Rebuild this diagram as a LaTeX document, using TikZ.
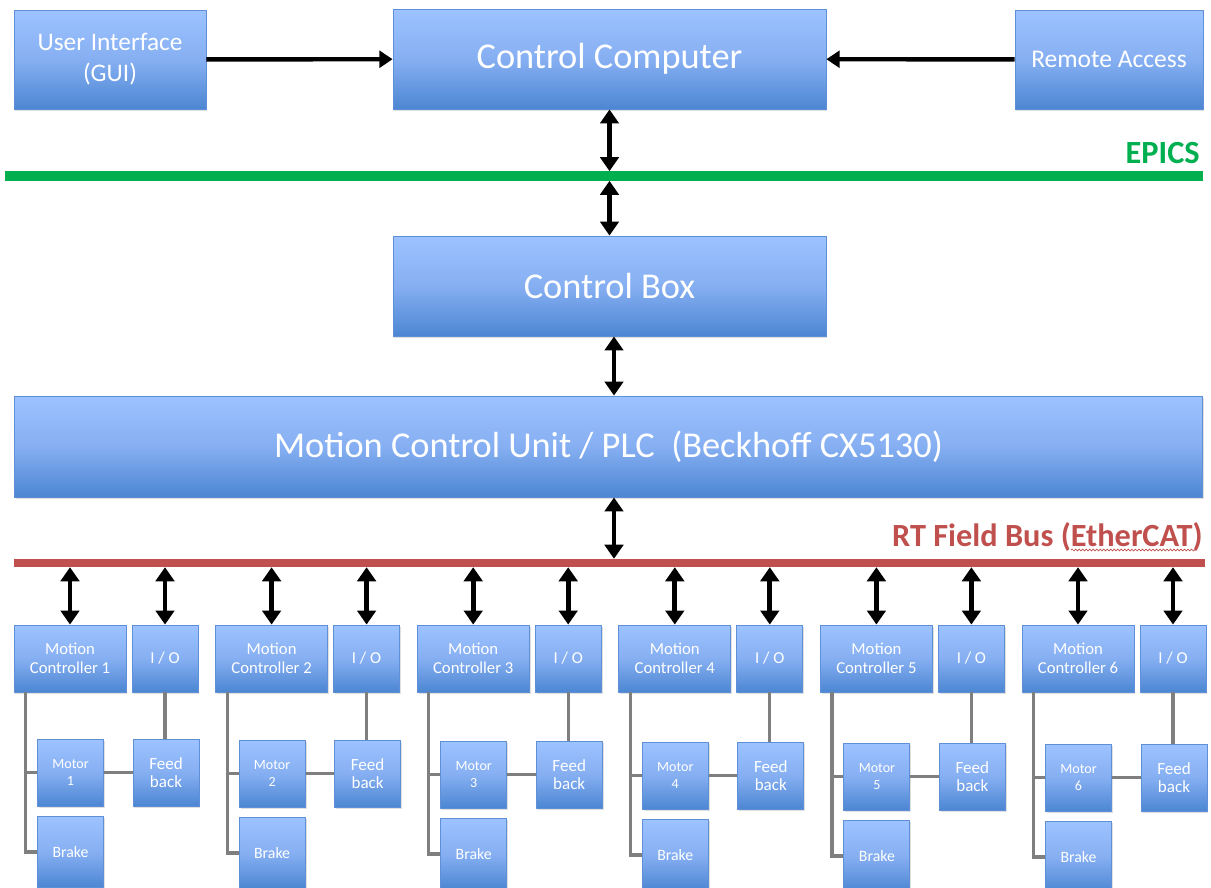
\documentclass[tikz,border=0pt]{standalone}
\usepackage{fontspec}
\setmainfont{Carlito}
\usetikzlibrary{arrows.meta,shadows,decorations.pathmorphing}

\definecolor{boxtop}{HTML}{9DC3FF}
\definecolor{boxmid}{HTML}{86AFF2}
\definecolor{boxbot}{HTML}{4C86D2}
\definecolor{boxline}{HTML}{5F8FD6}
\definecolor{epicsgreen}{HTML}{00B050}
\definecolor{busred}{HTML}{C0504D}
\definecolor{wiregray}{HTML}{7F7F7F}

\tikzset{
  blk/.style={draw=boxline, line width=0.5pt, top color=boxtop, bottom color=boxbot,
    middle color=boxmid, text=white, align=center, inner sep=0pt,
    drop shadow={opacity=0.25, shadow xshift=0.8pt, shadow yshift=-1pt}},
  mcbox/.style={blk, minimum width=2.24cm, minimum height=1.34cm,
    font=\fontsize{9.5}{10.5}\selectfont},
  smallbox/.style={blk, minimum width=1.32cm, minimum height=1.34cm,
    font=\fontsize{9.5}{10.5}\selectfont},
  buslabel/.style={anchor=base east, inner sep=0pt, font=\fontsize{18.4}{20}\selectfont\bfseries},
  dbl/.style={line width=2.8pt,
    {Triangle[width=10.5pt,length=8pt]}-{Triangle[width=10.5pt,length=8pt]}},
  one/.style={line width=2.5pt, -{Triangle[width=9.5pt,length=7.5pt]}},
  wire/.style={draw=wiregray, line width=1.8pt},
}

\begin{document}
\begin{tikzpicture}[x=0.02cm, y=-0.02cm]
  \useasboundingbox[fill=white] (0,0) rectangle (1211,887);

  % top row
  \node[blk, minimum width=3.84cm, minimum height=1.98cm,
    font=\fontsize{14.4}{17.6}\selectfont] (gui) at (110,59.5) {User Interface\\(GUI)};
  \node[blk, minimum width=8.66cm, minimum height=2cm,
    font=\fontsize{20.7}{24}\selectfont] (cc) at (609.5,59) {Control Computer};
  \node[blk, minimum width=3.76cm, minimum height=1.98cm,
    font=\fontsize{14.5}{17}\selectfont] (remote) at (1109,59.5) {Remote Access};
  \draw[one] (gui) -- (cc);
  \draw[one] (remote) -- (cc);

  % EPICS line
  \coordinate (epicsW) at (5,176);
  \coordinate (epicsE) at (1203,176);
  \draw[epicsgreen, line width=5.5pt] (epicsW) -- (epicsE);
  \node[buslabel, text=epicsgreen] (epics) at (1200,163) {EPICS};

  \node[blk, minimum width=8.66cm, minimum height=2cm,
    font=\fontsize{20.7}{24}\selectfont] (cbox) at (609.5,286) {Control Box};
  \draw[dbl, shorten >=2.75pt] (cc.south) -- (cc.south |- epicsW);
  \draw[dbl, shorten <=2.75pt] (cc.south |- epicsW) -- (cbox.north);

  \node[blk, minimum width=23.78cm, minimum height=2.02cm,
    font=\fontsize{20.7}{24}\selectfont] (mcu) at (608.5,446.5)
    {Motion Control Unit / PLC~~(Beckhoff CX5130)};
  \coordinate (mid) at ([xshift=0.09cm]cbox.south);
  \draw[dbl] (mid) -- (mid |- mcu.north);

  % field bus
  \coordinate (busW) at (14,563);
  \coordinate (busE) at (1205,563);
  \draw[busred, line width=4.8pt] (busW) -- (busE);
  \node[buslabel, text=busred] (buslbl) at (1203,546) {RT Field Bus (EtherCAT)};
  \draw[busred, line width=0.4pt, decorate, decoration={snake, amplitude=0.5pt, segment length=2pt}]
    ([xshift=-2.64cm, yshift=-0.08cm]buslbl.base east) -- ([xshift=-0.14cm, yshift=-0.08cm]buslbl.base east);
  \draw[dbl, shorten >=2.4pt] (mid |- mcu.south) -- (mid |- busW);

  % one group per axis
  \foreach \i in {1,...,6}{
    \pgfmathsetmacro\dx{(\i-1)*201.6}
    \pgfmathsetmacro\dy{(\i-1)*1}
    \node[mcbox] (mc\i) at (70+\dx,658.5) {Motion\\Controller \i};
    \node[smallbox] (io\i) at (165+\dx,658.5) {I / O};
    \node[smallbox, font=\fontsize{8}{10.2}\selectfont] (motor\i) at (70.5+\dx,772.5+\dy) {Motor\\\i};
    \node[smallbox, font=\fontsize{9.7}{10.2}\selectfont] (feed\i) at (166+\dx,772.5+\dy) {Feed\\back};
    \node[smallbox, minimum height=1.42cm, font=\fontsize{9}{10}\selectfont] (brake\i) at (70.5+\dx,852+\dy) {Brake};

    \draw[dbl, shorten <=2.4pt] (mc\i.north |- busW) -- (mc\i.north);
    \draw[dbl, shorten <=2.4pt] (io\i.north |- busW) -- (io\i.north);

    \draw[wire] ([xshift=0.24cm]mc\i.south west) |- (brake\i.west);
    \draw[wire] ([xshift=0.24cm]mc\i.south west) |- (motor\i.west);
    \draw[wire] (motor\i.east) -- (feed\i.west);
    \draw[wire] (io\i.south) -- (io\i.south |- feed\i.north);
  }
\end{tikzpicture}
\end{document}
